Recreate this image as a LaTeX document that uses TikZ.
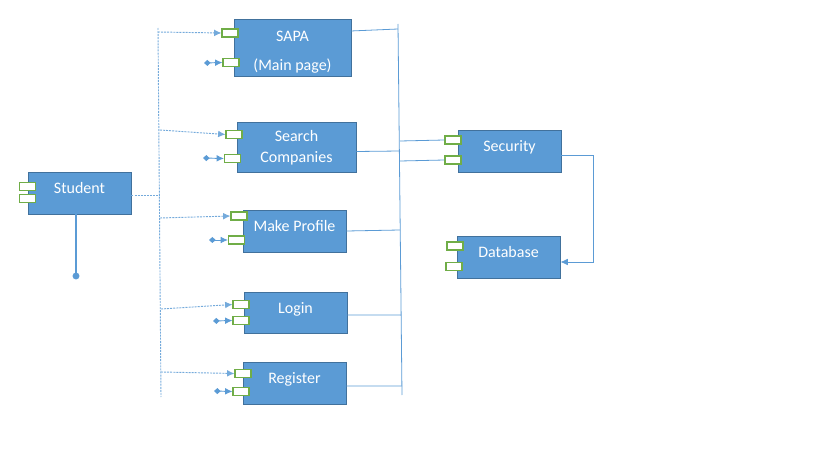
\documentclass[tikz,border=0pt]{standalone}
\usepackage{fontspec}
\setmainfont{Carlito}
\usetikzlibrary{arrows.meta}
\definecolor{boxfill}{HTML}{5B9BD5}
\definecolor{boxline}{HTML}{41719C}
\definecolor{wire}{HTML}{5B9BD5}
\definecolor{portgreen}{HTML}{70AD47}
\begin{document}
\begin{tikzpicture}[x=0.75pt,y=-0.75pt,
		comp/.style={draw=boxline,fill=boxfill,text=white,align=center,inner sep=0pt,line width=0.7pt,
			minimum width=77.25pt,minimum height=31.5pt,font=\fontsize{12}{15.6}\selectfont},
		upper/.style={text height=8.5pt,text depth=7.5pt},
		port/.style={draw=portgreen,fill=white,line width=0.8pt,inner sep=0pt,minimum width=12pt,minimum height=6pt},
		bus/.style={wire,line width=0.6pt},
		dbus/.style={wire!85,line width=0.7pt,dash pattern=on 1.5pt off 0.8pt},
		call/.style={dbus,-{Latex[length=5.5pt,width=5pt]}},
		feed/.style={wire,line width=0.7pt,{Diamond[length=5pt,width=4.5pt]}-{Latex[length=5.5pt,width=5pt]}}]
	\useasboundingbox (0,0) rectangle (819,460);
	\node[comp,minimum width=87.75pt,minimum height=42.75pt] at (292.5,47.5) (sapa) {\rule{0pt}{14.5pt}SAPA\\[6pt](Main page)};
	\node[comp,minimum width=89.25pt,minimum height=37.5pt] at (296.5,147.5) (search) {Search\\Companies};
	\node[comp,upper] at (79.5,193) (student) {Student};
	\node[comp,upper] at (294.5,231) (profile) {Make Profile};
	\node[comp,upper,minimum height=30.75pt] at (295.5,312.5) (login) {Login};
	\node[comp,upper] at (294.5,383) (register) {Register};
	\node[comp,upper] at (509.5,151) (security) {Security};
	\node[comp,upper] at (508.5,257) (database) {Database};
	\node[port] at (230,33) (sapa1) {};
	\node[port] at (231,62.5) (sapa2) {};
	\node[port] at (234,134.5) (search1) {};
	\node[port] at (232.5,158.5) (search2) {};
	\node[port] at (27.5,186.5) (student1) {};
	\node[port] at (27.5,198.5) (student2) {};
	\node[port] at (239,216) (profile1) {};
	\node[port] at (236.5,240) (profile2) {};
	\node[port] at (241,304.5) (login1) {};
	\node[port] at (241,320.5) (login2) {};
	\node[port] at (243,373.5) (register1) {};
	\node[port] at (241,391.5) (register2) {};
	\node[port] at (453,140) (security1) {};
	\node[port] at (453,160) (security2) {};
	\node[port] at (455,246) (database1) {};
	\node[port] at (454,266.5) (database2) {};
	\coordinate (lbtop) at (158,28);
	\coordinate (lbbot) at (161,397);
	\coordinate (lbstu) at (160,195);
	\coordinate (lb1) at (158,32);
	\coordinate (lb2) at (160,130);
	\coordinate (lb3) at (160,218);
	\coordinate (lb4) at (161,309);
	\coordinate (lb5) at (161,372);
	\coordinate (in1) at (204,63);
	\coordinate (in2) at (203,158);
	\coordinate (in3) at (209,240);
	\coordinate (in4) at (213,321);
	\coordinate (in5) at (214,391);
	\coordinate (rbtop) at (398,24);
	\coordinate (rbbot) at (402,395);
	\coordinate (rb1) at (398,29);
	\coordinate (rb2) at (400,151);
	\coordinate (rb3) at (400,230);
	\coordinate (rb4) at (401,315);
	\coordinate (rb5) at (402,386);
	\coordinate (rbs1) at (400,141);
	\coordinate (rbs2) at (400,161);
	\coordinate (bend) at (593,155);
	\coordinate (stuend) at (76,276);
	\draw[dbus] (lbtop) -- (lbbot);
	\draw[dbus] ([yshift=-1.5pt]student.east) -- (lbstu);
	\draw[call] (lb1) to (sapa1.west);
	\draw[call] (lb2) to (search1.west);
	\draw[call] (lb3) to (profile1.west);
	\draw[call] (lb4) to (login1.west);
	\draw[call] (lb5) to (register1.west);
	\draw[feed] (in1) to (sapa2.west);
	\draw[feed] (in2) to (search2.west);
	\draw[feed] (in3) to (profile2.west);
	\draw[feed] (in4) to (login2.west);
	\draw[feed] (in5) to (register2.west);
	\draw[bus] (rbtop) -- (rbbot);
	\draw[bus] ([yshift=12.4pt]sapa.east) -- (rb1);
	\draw[bus] ([yshift=-3pt]search.east) -- (rb2);
	\draw[bus] (profile.east) -- (rb3);
	\draw[bus] ([yshift=-1.9pt]login.east) -- (rb4);
	\draw[bus] ([yshift=-2.2pt]register.east) -- (rb5);
	\draw[bus] (rbs1) -- (security1.west);
	\draw[bus] (rbs2) -- (security2.west);
	\draw[bus,-{Latex[length=5.5pt,width=5pt]}] ([yshift=-3pt]security.east) -- (bend) |- ([yshift=-3.75pt]database.east);
	\draw[bus,line width=0.8pt] (student.south -| stuend) -- (stuend);
	\fill[wire] (stuend) circle (2.6pt);
\end{tikzpicture}
\end{document}
